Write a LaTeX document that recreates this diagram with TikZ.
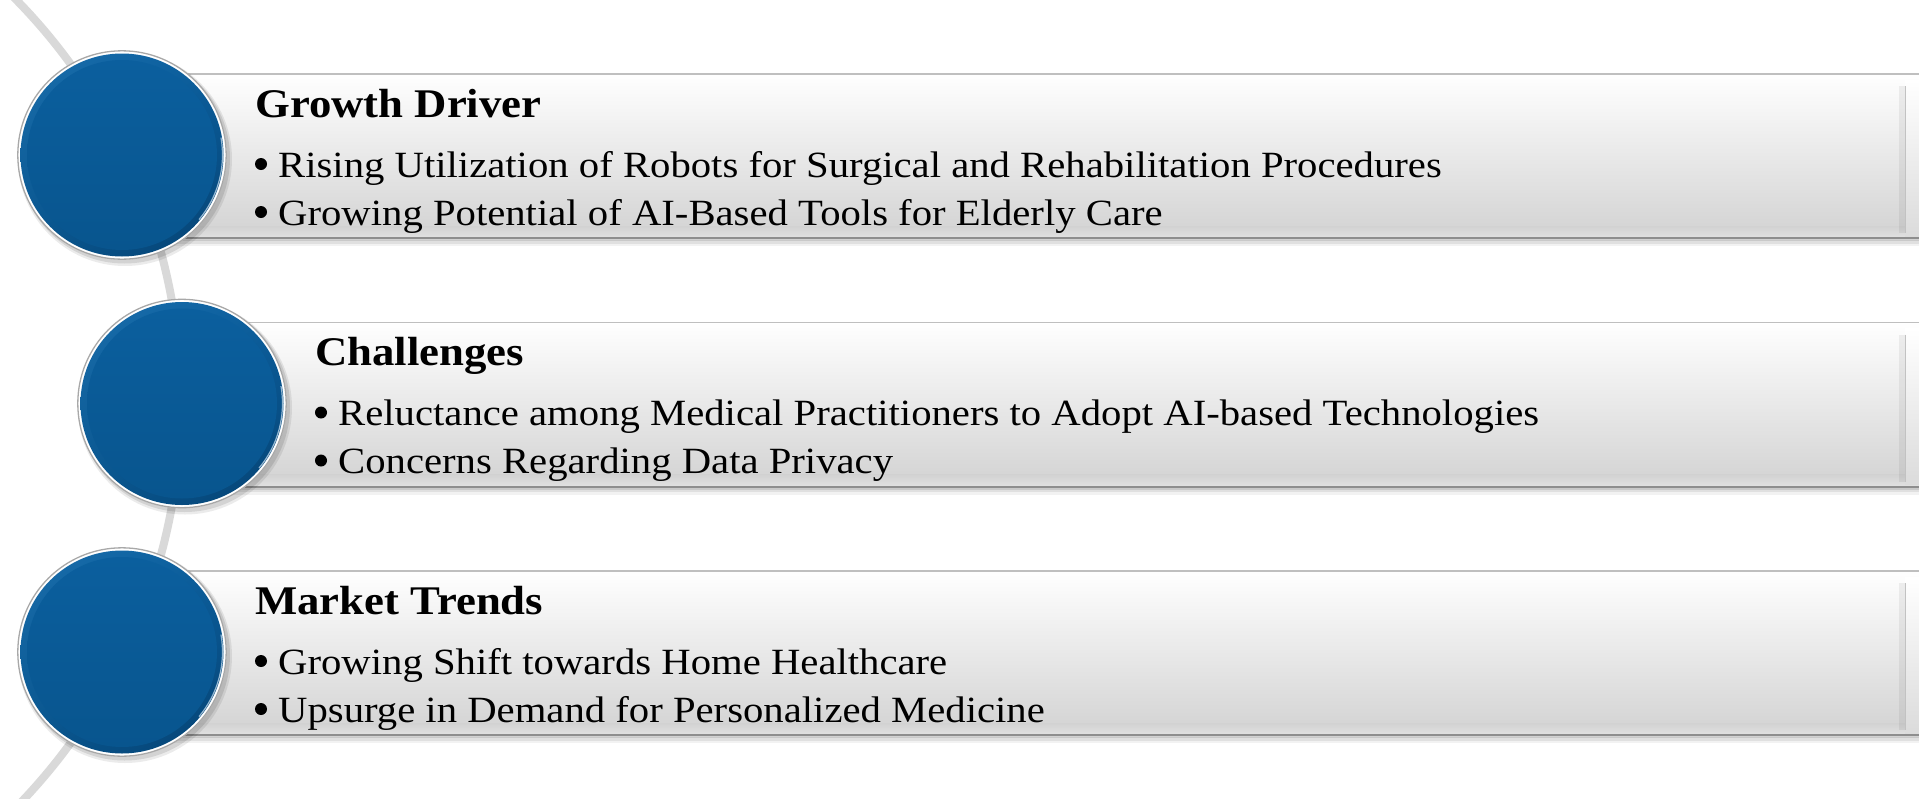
\documentclass[tikz,border=0pt]{standalone}
\usepackage{fontspec}
\setmainfont{Liberation Serif}[FakeStretch=1.1]
\usetikzlibrary{shadings}
\definecolor{arcgray}{HTML}{D9D9D9}
\definecolor{barlow}{HTML}{D2D2D2}
\definecolor{barmid}{HTML}{F2F2F2}
\definecolor{barline}{HTML}{8E8E8E}
\definecolor{bartop}{HTML}{BFBFBF}
\definecolor{rimgray}{HTML}{A8A8A8}
\definecolor{blueLight}{HTML}{1A6EAC}
\definecolor{blueDark}{HTML}{054272}
\definecolor{faceTop}{HTML}{0B5F9E}
\definecolor{faceBot}{HTML}{08558E}
\tikzset{
  arcline/.style={draw=arcgray, line width=8pt},
  headtext/.style={anchor=base west, inner sep=0pt, font=\bfseries\fontsize{40.7}{48}\selectfont},
  itemtext/.style={anchor=base west, inner sep=0pt, font=\fontsize{37}{48}\selectfont},
  bulletdot/.style={circle, fill=black, inner sep=0pt, minimum size=12pt},
}
\begin{document}
\begin{tikzpicture}[x=1pt,y=-1pt]
\useasboundingbox (0,0) rectangle (1919,798);
\clip (0,0) rectangle (1919,798);
\fill[white] (0,0) rectangle (1919,798);
% connecting arc
\draw[arcline] (-396,403.5) circle[radius=577pt];
% bars and circles
\foreach \i/\cx in {0/122,1/182,2/122}{
\begin{scope}[shift={(0,248.5*\i)}]
  % bar shadow
  \fill[black,opacity=0.05] (\cx,78) rectangle (1925,246);
  \fill[black,opacity=0.07] (\cx,78) rectangle (1925,243.5);
  \fill[black,opacity=0.10] (\cx,78) rectangle (1925,241);
  % bar face
  \shade[top color=white, middle color=barmid, bottom color=barlow] (\cx,73) rectangle (1925,239);
  \shade[top color=barlow, bottom color=white!88!black] (\cx,226) rectangle (1925,237);
  \draw[barline, line width=2pt] (\cx,238) -- (1925,238);
  \draw[bartop, line width=1.5pt] (\cx,73.75) -- (1925,73.75);
  % right bevel
  \shade[top color=white, bottom color=white!86!black] (1905,80) rectangle (1925,236);
  \draw[black, opacity=0.06, line width=6pt] (1902,86) -- (1902,233);
  \draw[white!76!black, line width=1.5pt] (1905.5,86) -- (1905.5,233);
  % circle shadow
  \fill[black,opacity=0.08] (\cx+3,159) circle[radius=107pt];
  \fill[black,opacity=0.10] (\cx+2.5,158) circle[radius=105.5pt];
  % rim
  \fill[white] (\cx,155) circle[radius=104.5pt];
  \draw[rimgray, line width=1.3pt] (\cx,155) circle[radius=104.2pt];
  % blue bevel ring
  \shade[upper left=blueLight, upper right=faceTop, lower left=faceBot, lower right=blueDark] (\cx,155) circle[radius=101.5pt];
  % highlight at right edge
  \draw[white!70!blueLight, line width=1.2pt, opacity=0.8] (\cx,155) ++(-40:100.5pt) arc[start angle=-40, end angle=10, radius=100.5pt];
  % inner face
  \shade[top color=faceTop, bottom color=faceBot] (\cx,155) circle[radius=95pt];
\end{scope}
}
% texts
\node[headtext] (h1) at (255,117) {Growth Driver};
\node[bulletdot] (d1) at (261,164) {};
\node[itemtext] (a1) at (278,177) {Rising Utilization of Robots for Surgical and Rehabilitation Procedures};
\node[bulletdot] (d2) at (261,212) {};
\node[itemtext] (a2) at (278,225) {Growing Potential of AI-Based Tools for Elderly Care};
\node[headtext] (h2) at (315,365.5) {Challenges};
\node[bulletdot] (d3) at (321,412.5) {};
\node[itemtext] (b1) at (338,425.5) {Reluctance among Medical Practitioners to Adopt AI-based Technologies};
\node[bulletdot] (d4) at (321,460.5) {};
\node[itemtext] (b2) at (338,473.5) {Concerns Regarding Data Privacy};
\node[headtext] (h3) at (255,614) {Market Trends};
\node[bulletdot] (d5) at (261,661) {};
\node[itemtext] (c1) at (278,674) {Growing Shift towards Home Healthcare};
\node[bulletdot] (d6) at (261,709) {};
\node[itemtext] (c2) at (278,722) {Upsurge in Demand for Personalized Medicine};
\end{tikzpicture}
\end{document}
